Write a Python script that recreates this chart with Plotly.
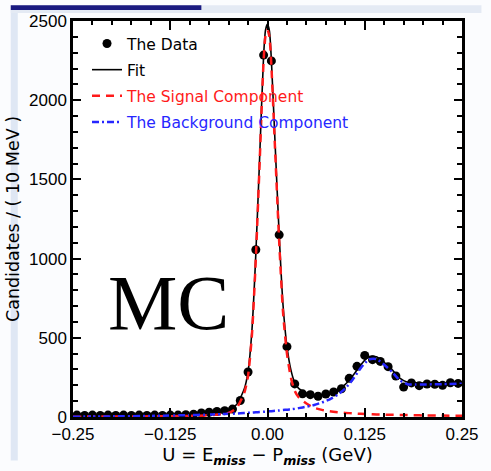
import plotly.graph_objects as go

# ---- data ----
bin_centers = [-0.245, -0.235, -0.225, -0.215, -0.205, -0.195, -0.185, -0.175, -0.165, -0.155,
               -0.145, -0.135, -0.125, -0.115, -0.105, -0.095, -0.085, -0.075, -0.065, -0.055,
               -0.045, -0.035, -0.025, -0.015, -0.005, 0.005, 0.015, 0.025, 0.035, 0.045,
               0.055, 0.065, 0.075, 0.085, 0.095, 0.105, 0.115, 0.125, 0.135, 0.145,
               0.155, 0.165, 0.175, 0.185, 0.195, 0.205, 0.215, 0.225, 0.235, 0.245]
counts = [12, 10, 12, 10, 12, 10, 12, 10, 12, 10,
          12, 10, 12, 12, 14, 18, 25, 30, 35, 40,
          50, 104, 284, 1056, 2285, 2248, 1150, 444, 209, 146,
          141, 131, 145, 158, 178, 244, 320, 389, 362, 351,
          318, 259, 189, 215, 198, 208, 207, 200, 216, 212]

curve_x = [-0.25, -0.2, -0.15, -0.1, -0.08, -0.06, -0.05, -0.04, -0.03, -0.025,
           -0.02, -0.015, -0.01, -0.005, -0.0025, 0.0, 0.0025, 0.005, 0.01, 0.015,
           0.02, 0.025, 0.03, 0.035, 0.04, 0.05, 0.06, 0.07, 0.08, 0.09,
           0.1, 0.11, 0.12, 0.13, 0.14, 0.15, 0.16, 0.17, 0.18, 0.19,
           0.2, 0.22, 0.25]
signal = [2, 3, 4, 7, 10, 17, 25, 55, 150, 260,
          520, 1000, 1620, 2250, 2410, 2445, 2400, 2215, 1660, 1110,
          660, 400, 250, 165, 125, 85, 58, 45, 36, 30,
          26, 23, 20, 18, 16, 15, 14, 13, 12, 11,
          10, 9, 8]
background = [2, 4, 7, 12, 15, 18, 20, 22, 25, 27,
              28, 30, 31, 33, 34, 35, 36, 37, 39, 41,
              44, 46, 49, 52, 56, 65, 76, 92, 112, 140,
              180, 240, 310, 362, 365, 330, 285, 232, 207, 205,
              205, 207, 210]
fit = [4, 7, 11, 19, 25, 35, 45, 77, 175, 287,
       548, 1030, 1651, 2283, 2444, 2480, 2436, 2252, 1699, 1151,
       704, 446, 299, 217, 181, 150, 134, 137, 148, 170,
       206, 263, 330, 380, 381, 345, 299, 245, 219, 216,
       215, 216, 218]

x_ticks = [-0.25, -0.125, 0.0, 0.125, 0.25]
x_tick_labels = ["\u22120.25", "\u22120.125", "0.00", "0.125", "0.25"]
y_ticks = [0, 500, 1000, 1500, 2000, 2500]
y_tick_labels = ["0", "500", "1000", "1500", "2000", "2500"]

fig = go.Figure()
fig.add_trace(go.Scatter(x=bin_centers, y=counts, mode="markers", name="The Data",
                         marker=dict(color="black", size=9), legendgroup="a"))
fig.add_trace(go.Scatter(x=curve_x, y=fit, mode="lines", name="Fit",
                         line=dict(color="black", width=1.6, shape="spline", smoothing=0.6),
                         legendgroup="b"))
fig.add_trace(go.Scatter(x=curve_x, y=signal, mode="lines",
                         name="<span style='color:#ff1a1a'>The Signal Component</span>",
                         line=dict(color="#ff1a1a", width=2.5, dash="8px,6px", shape="spline", smoothing=0.6),
                         legendgroup="c"))
fig.add_trace(go.Scatter(x=curve_x, y=background, mode="lines",
                         name="<span style='color:#2626ff'>The Background Component</span>",
                         line=dict(color="#2626ff", width=2.5, dash="7px,3px,2px,3px", shape="spline", smoothing=0.6),
                         legendgroup="d"))

axis_common = dict(showline=True, linecolor="black", linewidth=2.5, mirror="ticks",
                   ticks="inside", tickcolor="black", tickwidth=2, showgrid=False,
                   zeroline=False, tickfont=dict(family="Liberation Sans, Arial", size=17, color="black"))

fig.update_xaxes(range=[-0.25, 0.25], tickvals=x_ticks, ticktext=x_tick_labels, ticklen=9,
                 minor=dict(dtick=0.025, tick0=0, ticks="inside", ticklen=4, tickcolor="black", tickwidth=2, showgrid=False),
                 title=dict(text="U = E<sub><i><b>miss</b></i></sub> \u2212 P<sub><i><b>miss</b></i></sub> (GeV)",
                            font=dict(family="DejaVu Sans", size=18, color="black"), standoff=2),
                 **axis_common)
fig.update_yaxes(range=[0, 2500], tickvals=y_ticks, ticktext=y_tick_labels, ticklen=8,
                 minor=dict(dtick=100, tick0=0, ticks="inside", ticklen=5, tickcolor="black", tickwidth=2, showgrid=False),
                 title=dict(text="Candidates / ( 10 MeV )",
                            font=dict(family="DejaVu Sans", size=17.5, color="black"), standoff=5),
                 **axis_common)

fig.add_annotation(x=-0.127, y=720, xref="x", yref="y", text="MC", showarrow=False,
                   font=dict(family="Liberation Serif, Times New Roman", size=78, color="black"))

fig.update_layout(
    width=491, height=471,
    margin=dict(l=65, r=19, t=15, b=48),
    paper_bgcolor="#fbfcfe", plot_bgcolor="white",
    showlegend=True,
    legend=dict(x=0.036, y=0.985, xanchor="left", yanchor="top", bgcolor="rgba(0,0,0,0)",
                font=dict(family="DejaVu Sans", size=15.5, color="black"),
                tracegroupgap=3, itemwidth=30),
    shapes=[
        dict(type="rect", xref="paper", yref="paper", x0=-0.16, x1=-0.142, y0=-0.11, y1=1.04,
             fillcolor="#dfe7f4", line=dict(width=0), layer="below"),
        dict(type="rect", xref="paper", yref="paper", x0=-0.16, x1=1.05, y0=1.02, y1=1.04,
             fillcolor="#e4eaf4", line=dict(width=0), layer="below"),
        dict(type="rect", xref="paper", yref="paper", x0=-0.16, x1=0.33, y0=1.028, y1=1.04,
             fillcolor="#1a1a80", line=dict(width=0), layer="below"),
    ],
)

fig.write_html("out.html")
